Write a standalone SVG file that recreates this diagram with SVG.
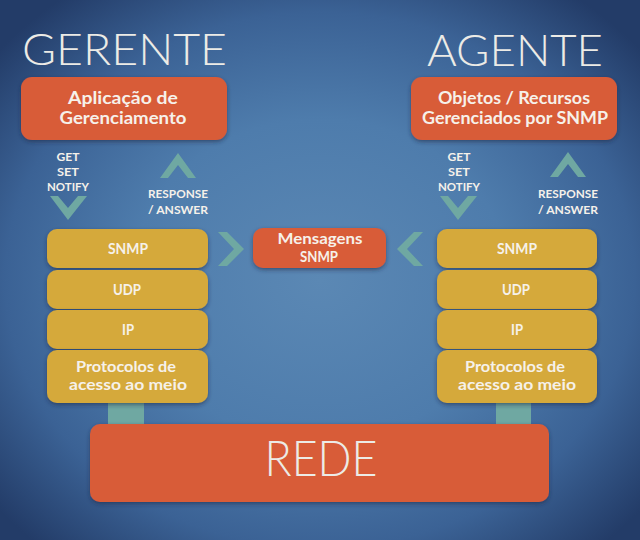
<svg xmlns="http://www.w3.org/2000/svg" width="640" height="540" viewBox="0 0 640 540">
<defs>
<radialGradient id="bg" cx="320" cy="280" r="420" gradientUnits="userSpaceOnUse" gradientTransform="translate(320 280) scale(1 0.85) translate(-320 -280)">
<stop offset="0" stop-color="#5b88b4"/>
<stop offset="0.45" stop-color="#4e7cac"/>
<stop offset="0.75" stop-color="#3b6295"/>
<stop offset="1" stop-color="#233c68"/>
</radialGradient>
<filter id="sh" x="-10%" y="-20%" width="120%" height="150%">
<feDropShadow dx="0" dy="2" stdDeviation="2" flood-color="#1a2a45" flood-opacity="0.55"/>
</filter>
<style>
.title{font-family:"Lato","Liberation Sans",sans-serif;font-weight:300;fill:#ecebe6;}
.lbl{font-family:"Lato","Open Sans","Liberation Sans",sans-serif;font-weight:700;fill:#f6f1ea;text-anchor:middle;}
.org{fill:#d85b39;filter:url(#sh);}
.yel{fill:#d5a93b;filter:url(#sh);}
.chev{fill:#6fa8a2;}
.tl{fill:#6fa8a2;}
.sm{font-size:12px;}
.md{font-size:15px;}
.lg{font-size:16.5px;}
</style>
</defs>
<rect width="640" height="540" fill="url(#bg)"/>

<text class="title" x="22" y="65" font-size="44" textLength="205" lengthAdjust="spacingAndGlyphs">GERENTE</text>
<text class="title" x="427" y="66" font-size="44" textLength="176" lengthAdjust="spacingAndGlyphs">AGENTE</text>

<g id="connectors">
<rect class="tl" x="108" y="400" width="36" height="28"/>
<rect class="tl" x="496" y="400" width="35" height="28"/>
<polygon class="chev" points="50,196 58,196 68,208 78,196 87,196 68,220"/>
<polygon class="chev" points="160,178 168,178 178,165 188,178 196,178 178,153"/>
<polygon class="chev" points="440,196 448,196 458,208 468,196 477,196 458,220"/>
<polygon class="chev" points="550,177 558,177 568,164 578,177 586,177 568,152"/>
<polygon class="chev" points="218,232 227,232 244,249 227,266 218,266 234,249"/>
<polygon class="chev" points="423,232 414,232 397,249 414,266 423,266 407,249"/>
<text class="lbl sm" x="68" y="161" textLength="23" lengthAdjust="spacingAndGlyphs">GET</text>
<text class="lbl sm" x="68" y="176" textLength="22" lengthAdjust="spacingAndGlyphs">SET</text>
<text class="lbl sm" x="68" y="191" textLength="42" lengthAdjust="spacingAndGlyphs">NOTIFY</text>
<text class="lbl sm" x="178" y="198" textLength="60" lengthAdjust="spacingAndGlyphs">RESPONSE</text>
<text class="lbl sm" x="178" y="214" textLength="60" lengthAdjust="spacingAndGlyphs">/ ANSWER</text>
<text class="lbl sm" x="459" y="161" textLength="23" lengthAdjust="spacingAndGlyphs">GET</text>
<text class="lbl sm" x="459" y="176" textLength="22" lengthAdjust="spacingAndGlyphs">SET</text>
<text class="lbl sm" x="459" y="191" textLength="42" lengthAdjust="spacingAndGlyphs">NOTIFY</text>
<text class="lbl sm" x="568" y="198" textLength="60" lengthAdjust="spacingAndGlyphs">RESPONSE</text>
<text class="lbl sm" x="568" y="214" textLength="60" lengthAdjust="spacingAndGlyphs">/ ANSWER</text>
</g>

<g id="app-gerente">
<rect class="org" x="21" y="77" width="206" height="63" rx="11"/>
<text class="lbl lg" x="123" y="104" textLength="110" lengthAdjust="spacingAndGlyphs">Aplicação de</text>
<text class="lbl lg" x="123" y="124" textLength="127" lengthAdjust="spacingAndGlyphs">Gerenciamento</text>
</g>
<g id="obj-agente">
<rect class="org" x="411" y="77" width="206" height="63" rx="11"/>
<text class="lbl lg" x="514" y="104" textLength="152" lengthAdjust="spacingAndGlyphs">Objetos / Recursos</text>
<text class="lbl lg" x="515" y="124" textLength="186" lengthAdjust="spacingAndGlyphs">Gerenciados por SNMP</text>
</g>

<g id="msg-snmp">
<rect class="org" x="253" y="228" width="133" height="40" rx="10"/>
<text class="lbl md" x="320" y="244" textLength="85" lengthAdjust="spacingAndGlyphs">Mensagens</text>
<text class="lbl md" x="319" y="262" textLength="38" lengthAdjust="spacingAndGlyphs">SNMP</text>
</g>

<g id="g-snmp"><rect class="yel" x="47" y="229" width="161" height="39" rx="10"/><text class="lbl md" x="128" y="254" textLength="40" lengthAdjust="spacingAndGlyphs">SNMP</text></g>
<g id="g-udp"><rect class="yel" x="47" y="270" width="161" height="39" rx="10"/><text class="lbl md" x="127" y="295" textLength="28" lengthAdjust="spacingAndGlyphs">UDP</text></g>
<g id="g-ip"><rect class="yel" x="47" y="310" width="161" height="39" rx="10"/><text class="lbl md" x="128" y="335" textLength="12" lengthAdjust="spacingAndGlyphs">IP</text></g>
<g id="g-mac"><rect class="yel" x="47" y="350" width="161" height="53" rx="10"/><text class="lbl md" x="126" y="372" textLength="100" lengthAdjust="spacingAndGlyphs">Protocolos de</text><text class="lbl md" x="128" y="390" textLength="118" lengthAdjust="spacingAndGlyphs">acesso ao meio</text></g>

<g id="a-snmp"><rect class="yel" x="437" y="229" width="160" height="39" rx="10"/><text class="lbl md" x="517" y="254" textLength="40" lengthAdjust="spacingAndGlyphs">SNMP</text></g>
<g id="a-udp"><rect class="yel" x="437" y="270" width="160" height="39" rx="10"/><text class="lbl md" x="516" y="295" textLength="28" lengthAdjust="spacingAndGlyphs">UDP</text></g>
<g id="a-ip"><rect class="yel" x="437" y="310" width="160" height="39" rx="10"/><text class="lbl md" x="517" y="335" textLength="12" lengthAdjust="spacingAndGlyphs">IP</text></g>
<g id="a-mac"><rect class="yel" x="437" y="350" width="160" height="53" rx="10"/><text class="lbl md" x="515" y="372" textLength="100" lengthAdjust="spacingAndGlyphs">Protocolos de</text><text class="lbl md" x="517" y="390" textLength="118" lengthAdjust="spacingAndGlyphs">acesso ao meio</text></g>

<g id="rede">
<rect class="org" x="90" y="424" width="459" height="78" rx="10"/>
<text class="title" x="321" y="476" font-size="50" text-anchor="middle" textLength="113" lengthAdjust="spacingAndGlyphs">REDE</text>
</g>
</svg>
